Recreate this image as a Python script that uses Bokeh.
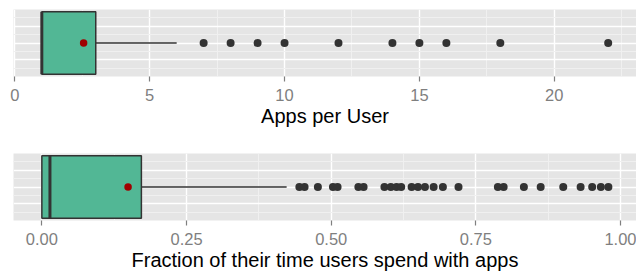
from bokeh.plotting import figure
from bokeh.models import Range1d, FixedTicker, Grid, NumeralTickFormatter, ColumnDataSource
from bokeh.layouts import column
from bokeh.embed import file_html
from bokeh.resources import INLINE

# ---- data: Apps per user ----
apps_q1 = 1.0
apps_median = 1.0
apps_q3 = 3.0
apps_whisker_lo = 1.0
apps_whisker_hi = 6.0
apps_mean = 2.55
apps_outliers = [7, 8, 9, 10, 12, 14, 15, 16, 18, 22]
apps_ticks = [0, 5, 10, 15, 20]
apps_tick_labels = ["0", "5", "10", "15", "20"]
apps_minor = [2.5, 7.5, 12.5, 17.5, 22.5]

# ---- data: fraction of time with apps ----
time_q1 = 0.0
time_median = 0.014
time_q3 = 0.172
time_whisker_lo = 0.0
time_whisker_hi = 0.423
time_mean = 0.149
time_outliers = [0.445, 0.454, 0.477, 0.503, 0.511, 0.547, 0.556, 0.592,
                 0.603, 0.613, 0.621, 0.639, 0.650, 0.662, 0.677, 0.693,
                 0.720, 0.788, 0.798, 0.833, 0.862, 0.901, 0.931, 0.951,
                 0.966, 0.979]
time_ticks = [0.0, 0.25, 0.5, 0.75, 1.0]
time_tick_labels = ["0.00", "0.25", "0.50", "0.75", "1.00"]
time_minor = [0.125, 0.375, 0.625, 0.875]

FILL = "#52B795"
DARK = "#333333"
GREY = "#7F7F7F"
FONT = "Liberation Sans"
HALF = 1.87


def boxpanel(q1, med, q3, wlo, whi, mean, outliers, ticks, labels, minor,
             xr, title, top_border, bottom_border, fmt):
    p = figure(frame_width=623, frame_height=67,
               x_range=Range1d(*xr), y_range=Range1d(-2.0, 2.0),
               output_backend="svg", toolbar_location=None,
               y_axis_location=None,
               min_border_left=13, min_border_right=0,
               min_border_top=top_border, min_border_bottom=bottom_border)
    p.background_fill_color = "#E5E5E5"
    p.border_fill_color = "white"
    p.outline_line_color = None

    # grids
    p.xgrid.ticker = FixedTicker(ticks=ticks, minor_ticks=minor)
    p.xgrid.grid_line_color = "white"
    p.xgrid.grid_line_width = 1.4
    p.xgrid.minor_grid_line_color = "#F2F2F2"
    p.xgrid.minor_grid_line_width = 0.8
    yg = Grid(dimension=1, ticker=FixedTicker(ticks=[-1, 0, 1],
                                              minor_ticks=[-1.5, -0.5, 0.5, 1.5]))
    yg.grid_line_color = "white"
    yg.grid_line_width = 1.4
    yg.minor_grid_line_color = "#F2F2F2"
    yg.minor_grid_line_width = 0.8
    p.add_layout(yg)

    # x axis
    ax = p.xaxis[0]
    ax.ticker = FixedTicker(ticks=ticks)
    ax.formatter = fmt
    ax.major_label_overrides = {t: l for t, l in zip(ticks, labels)}
    ax.axis_line_color = None
    ax.major_tick_line_color = GREY
    ax.major_tick_line_width = 1.2
    ax.major_tick_in = 0
    ax.major_tick_out = 5
    ax.minor_tick_line_color = None
    ax.major_label_text_color = GREY
    ax.major_label_text_font = FONT
    ax.major_label_text_font_size = "16.5px"
    ax.major_label_standoff = 7
    ax.axis_label = title
    ax.axis_label_text_font = FONT
    ax.axis_label_text_font_size = "20px"
    ax.axis_label_text_font_style = "normal"
    ax.axis_label_text_color = "black"
    ax.axis_label_standoff = 1

    # whiskers
    p.segment(x0=[wlo, q3], y0=[0, 0], x1=[q1, whi], y1=[0, 0],
              line_color=DARK, line_width=1.4)
    # box
    p.quad(left=[q1], right=[q3], bottom=[-HALF], top=[HALF],
           fill_color=FILL, line_color=DARK, line_width=1.5)
    # median
    p.segment(x0=[med], y0=[-HALF], x1=[med], y1=[HALF],
              line_color=DARK, line_width=3)
    # outliers
    src = ColumnDataSource(dict(x=outliers, y=[0] * len(outliers)))
    p.scatter("x", "y", source=src, size=8, fill_color=DARK, line_color=None)
    # mean
    p.scatter(x=[mean], y=[0], size=7.5, fill_color="#A00000", line_color=None)
    return p


p1 = boxpanel(apps_q1, apps_median, apps_q3, apps_whisker_lo, apps_whisker_hi,
              apps_mean, apps_outliers, apps_ticks, apps_tick_labels, apps_minor,
              (-0.05, 23.05), "Apps per User", 9, 59,
              NumeralTickFormatter(format="0"))
p2 = boxpanel(time_q1, time_median, time_q3, time_whisker_lo, time_whisker_hi,
              time_mean, time_outliers, time_ticks, time_tick_labels, time_minor,
              (-0.049, 1.0276), "Fraction of their time users spend with apps", 18, 51,
              NumeralTickFormatter(format="0.00"))

layout = column(p1, p2, spacing=0)
open("out.html", "w").write(file_html(layout, INLINE))
